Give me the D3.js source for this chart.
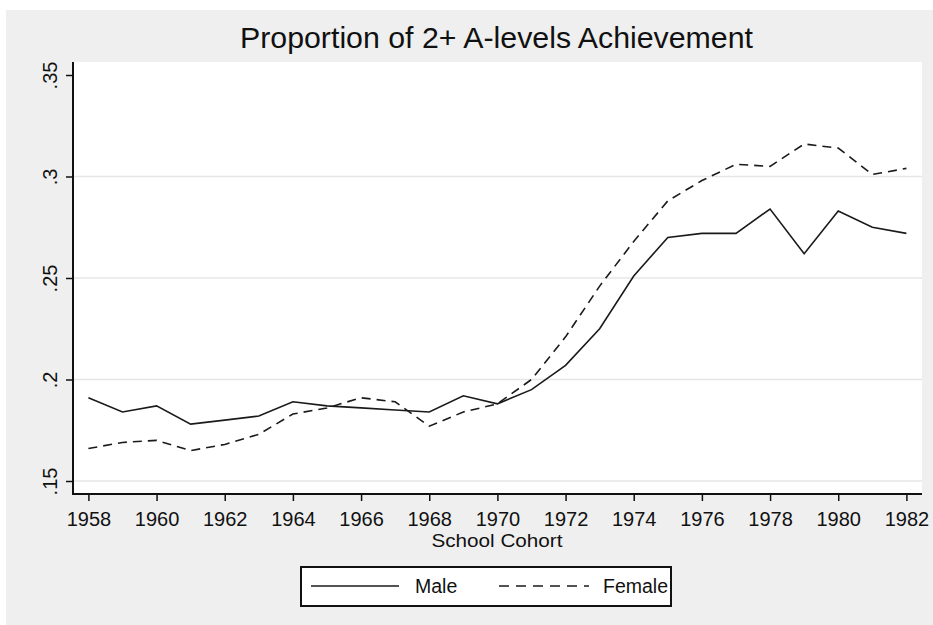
<!DOCTYPE html>
<html>
<head>
<meta charset="utf-8">
<script src="https://cdn.jsdelivr.net/npm/d3@7"></script>
<style>
  body { margin: 0; background: #fff; }
  text { font-family: "Liberation Sans", Arial, sans-serif; fill: #111; }
</style>
</head>
<body>
<svg id="chart" width="933" height="625"></svg>
<script>
// data
var years = [1958, 1959, 1960, 1961, 1962, 1963, 1964, 1965, 1966, 1967, 1968, 1969,
             1970, 1971, 1972, 1973, 1974, 1975, 1976, 1977, 1978, 1979, 1980, 1981, 1982];
var male = [.191, .184, .187, .178, .180, .182, .189, .187, .186, .185, .184, .192,
            .188, .195, .207, .225, .251, .270, .272, .272, .284, .262, .283, .275, .272];
var female = [.166, .169, .170, .165, .168, .173, .183, .186, .191, .189, .177, .184,
              .188, .200, .221, .246, .268, .288, .298, .306, .305, .316, .314, .301, .304];
var xTicks = [1958, 1960, 1962, 1964, 1966, 1968, 1970, 1972, 1974, 1976, 1978, 1980, 1982];
var yTicks = [.15, .2, .25, .3, .35];
var gridTicks = [.15, .2, .25, .3];

var svg = d3.select('#chart');

// page background
svg.append('rect').attr('x', 6).attr('y', 10).attr('width', 927).attr('height', 615).attr('fill', '#efefef');

// plot region
var box = { left: 73, right: 922, top: 62, bottom: 494 };
svg.append('rect')
  .attr('x', box.left).attr('y', box.top)
  .attr('width', box.right - box.left).attr('height', box.bottom - box.top)
  .attr('fill', '#fff');

var x = d3.scaleLinear().domain([1958, 1982]).range([88.4, 906.4]);
var y = d3.scaleLinear().domain([.15, .35]).range([481, 75]);

// grid
svg.append('g').selectAll('line')
  .data(gridTicks)
  .enter().append('line')
  .attr('x1', box.left).attr('x2', box.right)
  .attr('y1', function(d) { return y(d); })
  .attr('y2', function(d) { return y(d); })
  .attr('stroke', '#e6e6e6').attr('stroke-width', 1.5);

// lines
var line = d3.line()
  .x(function(d, i) { return x(years[i]); })
  .y(function(d) { return y(d); });

svg.append('path').datum(male)
  .attr('d', line).attr('fill', 'none')
  .attr('stroke', '#1a1a1a').attr('stroke-width', 1.6);

svg.append('path').datum(female)
  .attr('d', line).attr('fill', 'none')
  .attr('stroke', '#1a1a1a').attr('stroke-width', 1.6)
  .attr('stroke-dasharray', '9,6');

// axes
var fmt = function(d) { return d3.format('.2f')(d).replace(/^0/, '').replace(/0$/, ''); };

var xAxis = svg.append('g')
  .attr('transform', 'translate(0,' + box.bottom + ')')
  .call(d3.axisBottom(x).tickValues(xTicks).tickFormat(d3.format('d')).tickSize(7).tickPadding(11));
xAxis.select('.domain').remove();
xAxis.selectAll('line').attr('stroke', '#111').attr('stroke-width', 1.5);
xAxis.selectAll('text').attr('font-size', 20).attr('font-family', '"Liberation Sans", Arial, sans-serif').attr('fill', '#111');

var yAxis = svg.append('g')
  .attr('transform', 'translate(' + box.left + ',0)')
  .call(d3.axisLeft(y).tickValues(yTicks).tickFormat(fmt).tickSize(7));
yAxis.select('.domain').remove();
yAxis.selectAll('line').attr('stroke', '#111').attr('stroke-width', 1.5);
yAxis.selectAll('text')
  .attr('font-size', 20).attr('font-family', '"Liberation Sans", Arial, sans-serif').attr('fill', '#111')
  .attr('x', null).attr('dy', null)
  .attr('text-anchor', 'middle')
  .attr('transform', 'translate(-16,0) rotate(-90)');

// axis lines
svg.append('line').attr('x1', box.left).attr('x2', box.left).attr('y1', box.top).attr('y2', box.bottom + 1)
  .attr('stroke', '#111').attr('stroke-width', 2);
svg.append('line').attr('x1', box.left - 1).attr('x2', box.right).attr('y1', box.bottom).attr('y2', box.bottom)
  .attr('stroke', '#111').attr('stroke-width', 2);

// titles
svg.append('text')
  .attr('x', 496.5).attr('y', 48)
  .attr('text-anchor', 'middle')
  .attr('font-size', 29)
  .attr('textLength', 513).attr('lengthAdjust', 'spacingAndGlyphs')
  .text('Proportion of 2+ A-levels Achievement');

svg.append('text')
  .attr('x', 497).attr('y', 547)
  .attr('text-anchor', 'middle')
  .attr('font-size', 17.5)
  .attr('textLength', 131).attr('lengthAdjust', 'spacingAndGlyphs')
  .text('School Cohort');

// legend
var legend = svg.append('g');
legend.append('rect')
  .attr('x', 301).attr('y', 567).attr('width', 370).attr('height', 39)
  .attr('fill', '#fff').attr('stroke', '#111').attr('stroke-width', 2);

var items = [
  { name: 'Male', dash: null, x1: 311, x2: 399, tx: 415 },
  { name: 'Female', dash: '10,7', x1: 499, x2: 589, tx: 603 }
];
items.forEach(function(it) {
  legend.append('line')
    .attr('x1', it.x1).attr('x2', it.x2).attr('y1', 586).attr('y2', 586)
    .attr('stroke', '#1a1a1a').attr('stroke-width', 1.6)
    .attr('stroke-dasharray', it.dash);
  legend.append('text')
    .attr('x', it.tx).attr('y', 593)
    .attr('font-size', 19.5)
    .text(it.name);
});
</script>
</body>
</html>
